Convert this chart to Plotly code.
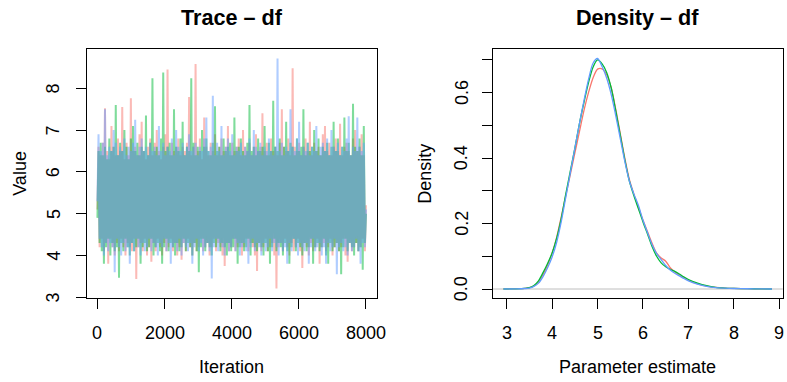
import numpy as np
import plotly.graph_objects as go

# ---------------- data ----------------
chain_names = ["Chain 1", "Chain 2", "Chain 3"]
chain_colors = ["#F8766D", "#00BA38", "#619CFF"]

# thinned trace values (every ~32nd iteration)
trace_red = [
    5.1, 6.6, 4.2, 6.4, 4.4, 6.7, 4.1, 7.52, 4.3, 6.5,
    3.8, 6.3, 4.4, 7.1, 4.2, 6.6, 4.0, 6.4, 4.3, 6.8,
    4.1, 6.5, 4.4, 7.55, 4.2, 6.3, 4.0, 6.7, 4.3, 6.4,
    4.2, 7.76, 4.1, 6.5, 4.4, 6.6, 3.44, 6.4, 4.2, 6.9,
    4.3, 7.2, 4.1, 6.5, 4.4, 6.3, 4.0, 6.6, 4.2, 6.8,
    3.85, 6.4, 4.3, 6.7, 4.1, 7.0, 4.4, 6.5, 4.2, 6.3,
    4.0, 6.6, 4.3, 6.9, 4.1, 8.45, 4.2, 6.4, 4.4, 6.7,
    4.1, 6.5, 4.3, 6.6, 4.0, 6.8, 4.2, 6.4, 3.9, 6.6,
    4.3, 6.5, 4.1, 6.7, 4.4, 7.79, 4.2, 6.4, 4.0, 6.6,
    4.3, 8.58, 4.1, 6.5, 4.2, 6.8, 4.4, 6.3, 4.1, 7.3,
    4.2, 6.6, 4.3, 6.4, 4.0, 6.7, 4.2, 6.5, 4.4, 6.9,
    4.1, 6.4, 4.3, 6.6, 4.2, 6.8, 4.0, 6.5, 3.75, 6.6,
    4.3, 7.1, 4.1, 6.4, 4.2, 6.7, 4.4, 6.5, 4.1, 6.6,
    4.2, 6.8, 4.3, 6.4, 4.0, 7.0, 4.2, 6.6, 4.4, 6.5,
    4.1, 6.7, 4.3, 6.4, 4.2, 6.6, 4.0, 6.9, 3.63, 6.5,
    4.3, 6.6, 4.1, 7.4, 4.2, 6.5, 4.4, 6.7, 4.1, 6.4,
    4.2, 6.8, 4.3, 6.5, 4.0, 6.6, 3.21, 6.4, 4.2, 6.7,
    4.3, 7.5, 4.1, 6.6, 4.4, 6.5, 4.2, 6.8, 4.0, 6.4,
    4.3, 8.48, 4.1, 6.6, 4.2, 6.5, 4.4, 6.7, 4.1, 6.4,
    3.7, 6.6, 4.3, 6.8, 4.2, 6.5, 4.0, 7.2, 4.3, 6.4,
    4.1, 6.7, 4.2, 6.5, 4.4, 6.6, 3.8, 6.4, 4.2, 6.9,
    4.3, 7.1, 4.1, 6.5, 4.2, 6.7, 4.4, 6.4, 4.0, 6.6,
    4.2, 6.8, 4.3, 6.5, 4.1, 7.15, 4.2, 6.4, 4.4, 6.6,
    4.0, 6.7, 3.85, 6.5, 4.3, 6.4, 4.1, 6.8, 4.2, 7.0,
    4.3, 6.5, 4.1, 6.6, 4.2, 6.9, 4.4, 6.4, 4.1, 5.2,
]
trace_green = [
    4.9, 6.5, 4.3, 6.7, 4.1, 6.4, 3.8, 6.6, 4.2, 6.3,
    4.4, 6.8, 4.0, 6.5, 4.3, 6.6, 4.1, 7.6, 4.2, 6.4,
    3.47, 6.7, 4.3, 6.5, 4.1, 7.0, 4.4, 6.6, 4.2, 6.3,
    4.0, 6.8, 4.3, 7.1, 4.1, 6.5, 4.2, 6.7, 4.4, 6.4,
    3.8, 6.6, 4.2, 6.5, 4.3, 7.35, 4.1, 6.4, 4.2, 6.7,
    4.4, 8.24, 4.0, 6.5, 4.2, 6.6, 4.3, 6.4, 4.1, 6.8,
    3.8, 8.38, 4.2, 6.5, 4.4, 6.6, 4.1, 6.7, 4.3, 6.4,
    4.2, 7.5, 4.0, 6.6, 4.3, 6.5, 4.1, 6.8, 4.2, 7.2,
    4.4, 6.4, 4.1, 6.6, 4.3, 6.5, 4.2, 8.24, 4.0, 6.7,
    4.3, 6.4, 4.1, 6.6, 3.6, 6.5, 4.2, 7.0, 4.4, 6.6,
    4.1, 6.8, 4.3, 6.5, 4.2, 6.4, 4.0, 6.7, 4.3, 7.57,
    4.2, 6.5, 4.4, 6.6, 4.1, 6.4, 4.3, 6.8, 4.2, 6.5,
    4.0, 6.6, 4.3, 6.7, 4.1, 6.4, 4.2, 7.3, 4.4, 6.5,
    3.8, 6.6, 4.2, 6.8, 4.3, 6.5, 4.1, 6.4, 4.2, 6.7,
    4.4, 7.6, 4.0, 6.5, 4.3, 6.6, 4.2, 6.4, 4.1, 6.8,
    4.3, 6.5, 4.2, 6.6, 4.0, 7.1, 4.3, 6.4, 4.1, 6.7,
    3.8, 6.5, 4.2, 7.7, 4.4, 6.6, 4.1, 6.5, 4.3, 6.8,
    4.2, 6.4, 4.0, 6.6, 4.3, 7.2, 4.1, 6.5, 3.8, 6.7,
    4.2, 6.6, 4.4, 6.4, 4.1, 6.8, 4.3, 6.5, 4.2, 6.6,
    4.0, 7.5, 4.3, 6.4, 4.1, 6.7, 4.2, 6.5, 4.4, 6.6,
    3.8, 7.0, 4.2, 6.5, 4.3, 6.8, 4.1, 6.4, 4.2, 6.6,
    4.4, 6.5, 4.0, 6.7, 3.8, 6.4, 4.3, 6.6, 4.1, 7.2,
    4.2, 6.5, 4.3, 6.8, 4.1, 6.4, 3.55, 6.6, 4.2, 7.3,
    4.4, 6.5, 4.1, 6.7, 4.3, 6.4, 4.2, 7.63, 4.0, 6.6,
    4.3, 6.5, 4.1, 6.8, 4.2, 6.4, 3.66, 7.1, 4.3, 5.0,
]
trace_blue = [
    5.3, 6.9, 4.4, 6.5, 4.2, 6.7, 4.0, 7.5, 4.3, 6.4,
    4.1, 6.6, 4.3, 6.5, 4.2, 7.0, 3.6, 6.7, 4.4, 6.4,
    4.2, 6.6, 4.0, 6.5, 4.3, 6.8, 4.1, 6.4, 4.2, 6.6,
    3.8, 6.5, 4.3, 6.7, 4.1, 7.25, 4.4, 6.4, 4.2, 6.6,
    4.0, 6.8, 4.3, 6.5, 4.1, 6.6, 4.2, 6.4, 4.4, 6.7,
    4.1, 6.5, 4.3, 6.6, 4.2, 6.4, 4.0, 7.1, 4.3, 6.5,
    4.2, 6.7, 4.4, 6.4, 4.1, 6.6, 4.3, 6.5, 3.8, 6.8,
    4.2, 6.4, 4.3, 7.0, 4.1, 6.6, 4.4, 6.5, 4.0, 6.7,
    4.3, 6.4, 4.2, 6.6, 4.1, 6.9, 4.3, 6.5, 3.8, 6.6,
    4.2, 6.7, 4.4, 6.4, 4.1, 6.6, 4.3, 6.5, 4.0, 6.8,
    4.2, 7.3, 4.3, 6.5, 4.1, 6.6, 3.45, 7.82, 4.2, 6.4,
    4.4, 6.7, 4.1, 6.5, 4.3, 7.1, 4.2, 6.4, 4.0, 6.6,
    4.3, 6.8, 4.1, 6.5, 4.2, 6.9, 4.4, 6.4, 4.1, 6.6,
    4.3, 6.5, 4.0, 6.7, 4.2, 6.4, 4.3, 6.6, 4.1, 6.5,
    3.8, 6.8, 4.2, 6.4, 4.4, 7.0, 4.1, 6.6, 4.3, 6.5,
    4.2, 6.7, 4.0, 6.4, 4.3, 6.6, 4.1, 6.5, 4.2, 6.8,
    4.4, 6.5, 4.1, 6.4, 4.3, 6.6, 4.2, 8.71, 4.0, 6.5,
    4.3, 6.7, 4.1, 6.4, 4.2, 6.6, 3.8, 6.5, 4.3, 7.5,
    4.1, 6.6, 4.4, 6.5, 4.2, 6.8, 4.0, 7.2, 4.3, 6.4,
    4.2, 6.6, 4.1, 6.5, 4.3, 6.7, 3.8, 6.4, 4.2, 6.6,
    4.4, 6.5, 4.1, 7.1, 4.2, 6.4, 4.3, 6.6, 4.0, 6.7,
    4.2, 6.5, 3.8, 6.8, 4.3, 6.4, 4.1, 7.0, 4.2, 6.6,
    4.4, 6.5, 3.55, 6.7, 4.2, 6.4, 4.3, 6.6, 4.1, 6.5,
    4.2, 6.8, 4.0, 7.33, 4.3, 6.4, 4.1, 6.6, 4.2, 6.5,
    4.4, 7.3, 4.1, 6.6, 3.8, 6.5, 4.3, 6.7, 4.2, 5.1,
]
n_iter = 8000

# density estimates
dens_x = [2.93, 3.2, 3.4, 3.5, 3.6, 3.7, 3.8, 3.9, 4.0, 4.1, 4.2, 4.3, 4.4, 4.5,
          4.6, 4.7, 4.8, 4.9, 5.0, 5.1, 5.2, 5.3, 5.4, 5.5, 5.6, 5.7, 5.8, 5.9,
          6.0, 6.1, 6.2, 6.3, 6.4, 6.5, 6.6, 6.7, 6.8, 6.9, 7.0, 7.2, 7.4, 7.6,
          7.8, 8.0, 8.3, 8.6, 8.84]
dens_red = [0.0003, 0.001, 0.002, 0.004, 0.009, 0.021, 0.044, 0.073, 0.11, 0.158,
            0.22, 0.285, 0.35, 0.415, 0.48, 0.545, 0.60, 0.645, 0.672, 0.673,
            0.655, 0.615, 0.55, 0.475, 0.40, 0.335, 0.29, 0.25, 0.21, 0.175,
            0.14, 0.11, 0.095, 0.085, 0.065, 0.052, 0.043, 0.035, 0.027, 0.016,
            0.009, 0.005, 0.003, 0.002, 0.001, 0.0005, 0.0002]
dens_green = [0.0, 0.0005, 0.002, 0.004, 0.011, 0.025, 0.05, 0.078, 0.11, 0.155,
              0.215, 0.29, 0.36, 0.43, 0.505, 0.57, 0.63, 0.678, 0.700, 0.688,
              0.662, 0.615, 0.545, 0.47, 0.395, 0.33, 0.285, 0.245, 0.205, 0.168,
              0.13, 0.10, 0.08, 0.068, 0.060, 0.054, 0.046, 0.037, 0.029, 0.018,
              0.010, 0.005, 0.003, 0.002, 0.001, 0.0005, 0.0]
dens_blue = [0.0, 0.0004, 0.0015, 0.003, 0.008, 0.018, 0.038, 0.065, 0.098, 0.143,
             0.205, 0.28, 0.355, 0.43, 0.505, 0.575, 0.64, 0.69, 0.7045, 0.68,
             0.645, 0.595, 0.53, 0.46, 0.39, 0.33, 0.29, 0.255, 0.21, 0.172,
             0.135, 0.108, 0.09, 0.072, 0.058, 0.048, 0.04, 0.032, 0.025, 0.015,
             0.008, 0.004, 0.0025, 0.0015, 0.0008, 0.0004, 0.0]

trace_tickvals = [0, 2000, 4000, 6000, 8000]
trace_ticktext = ["0", "2000", "4000", "6000", "8000"]
value_tickvals = [3, 4, 5, 6, 7, 8]
value_ticktext = ["3", "4", "5", "6", "7", "8"]
param_tickvals = [3, 4, 5, 6, 7, 8, 9]
param_ticktext = ["3", "4", "5", "6", "7", "8", "9"]
dens_tickvals = [0.0, 0.1, 0.2, 0.3, 0.4, 0.5, 0.6, 0.7]
dens_ticktext = ["0.0", "", "0.2", "", "0.4", "", "0.6", ""]

# ---------------- figure ----------------
W, H = 787, 382
FONT = "Liberation Sans, Arial, Helvetica, sans-serif"

fig = go.Figure()

traces = [trace_red, trace_green, trace_blue]
iters = np.linspace(1, n_iter, len(trace_red))
for name, col, vals in zip(chain_names, chain_colors, traces):
    fig.add_trace(go.Scatter(
        x=iters, y=vals, mode="lines", name=name,
        line=dict(color=col, width=2.0), opacity=0.5,
        xaxis="x", yaxis="y", showlegend=False, hoverinfo="skip"))

# grey zero line in density panel
fig.add_shape(type="line", xref="x2 domain", x0=0, x1=1, yref="y2", y0=0, y1=0,
              line=dict(color="#BEBEBE", width=1), layer="below")
for name, col, vals in zip(chain_names, chain_colors, [dens_red, dens_green, dens_blue]):
    fig.add_trace(go.Scatter(
        x=dens_x, y=vals, mode="lines", name=name,
        line=dict(color=col, width=1.3, shape="spline", smoothing=0.8),
        xaxis="x2", yaxis="y2", showlegend=False))

def px_x(p):
    return p / W

def px_y(p):
    return 1 - p / H

axis_common = dict(
    showline=True, mirror=True, linecolor="black", linewidth=1,
    ticks="outside", ticklen=10, tickwidth=1, tickcolor="black",
    showgrid=False, zeroline=False, showticklabels=False, automargin=False,
)

L1, R1 = 86.7, 376.7
L2, R2 = 492.7, 782.7
T, B = 49.3, 298.3

fig.update_layout(
    width=W, height=H, autosize=False,
    margin=dict(l=0, r=0, t=0, b=0, pad=0),
    paper_bgcolor="white", plot_bgcolor="white",
    font=dict(family=FONT, size=18, color="black"),
    xaxis=dict(domain=[px_x(L1), px_x(R1)], range=[1 - 320, n_iter + 320],
               tickvals=trace_tickvals, anchor="y", **axis_common),
    yaxis=dict(domain=[px_y(B), px_y(T)], range=[2.976, 8.933],
               tickvals=value_tickvals, anchor="x", **axis_common),
    xaxis2=dict(domain=[px_x(L2), px_x(R2)], range=[2.692, 9.075],
                tickvals=param_tickvals, anchor="y2", **axis_common),
    yaxis2=dict(domain=[px_y(B), px_y(T)], range=[-0.0284, 0.7326],
                tickvals=dens_tickvals, anchor="x2", **axis_common),
)

ann = []
def add_text(txt, x, y, size, bold=False, angle=0, xref="paper", yref="paper"):
    ann.append(dict(
        text=f"<b>{txt}</b>" if bold else txt,
        x=px_x(x) if xref == "paper" else x,
        y=px_y(y) if yref == "paper" else y,
        xref=xref, yref=yref,
        xanchor="center", yanchor="middle", showarrow=False,
        textangle=angle, font=dict(family=FONT, size=size, color="black")))

# tick labels (R style: y labels parallel to the axis)
TICK_LABEL_Y = 333.3
for v, t in zip(trace_tickvals, trace_ticktext):
    add_text(t, v, TICK_LABEL_Y, 18, xref="x")
for v, t in zip(param_tickvals, param_ticktext):
    add_text(t, v, TICK_LABEL_Y, 18, xref="x2")
for v, t in zip(value_tickvals, value_ticktext):
    add_text(t, L1 - 33.4, v, 18, angle=-90, yref="y")
for v, t in zip(dens_tickvals, dens_ticktext):
    if t:
        add_text(t, L2 - 31.5, v, 18, angle=-90, yref="y2")

add_text("Trace – df", (L1 + R1) / 2, 17.6, 21.6, bold=True)
add_text("Density – df", (L2 + R2) / 2, 17.6, 21.6, bold=True)
add_text("Iteration", (L1 + R1) / 2, 366.5, 18)
add_text("Parameter estimate", (L2 + R2) / 2, 366.5, 18)
add_text("Value", 20.0, (T + B) / 2, 18, angle=-90)
add_text("Density", 425.0, (T + B) / 2, 18, angle=-90)
fig.update_layout(annotations=ann)

fig.write_html(
    "out.html",
    config={"displayModeBar": False, "staticPlot": True},
    post_script="document.body.style.margin='0px';document.body.style.overflow='hidden';",
)
